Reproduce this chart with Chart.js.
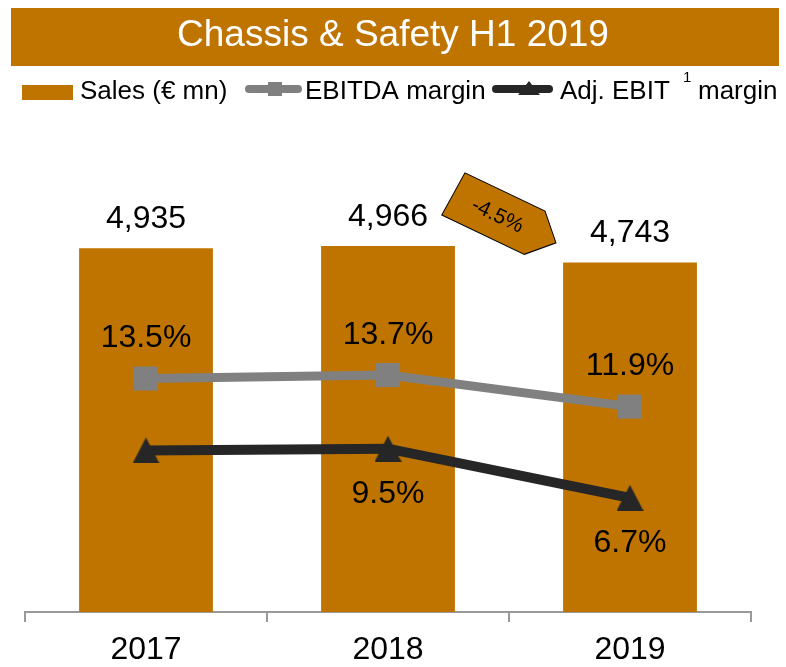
<!DOCTYPE html>
<html>
<head>
<meta charset="utf-8">
<script src="https://cdn.jsdelivr.net/npm/chart.js@4.4.1/dist/chart.umd.min.js"></script>
<style>
html,body{margin:0;padding:0;background:#fff;}
#wrap{width:786px;height:667px;position:relative;}
</style>
</head>
<body>
<div id="wrap"><canvas id="c"></canvas></div>
<script>
// ---- data ----
const chartTitle = 'Chassis & Safety H1 2019';
const years = ['2017', '2018', '2019'];
const sales = [4935, 4966, 4743];
const ebitdaMargin = [13.5, 13.7, 11.9];
const adjEbitMargin = [9.4, 9.5, 6.7];
const adjEbitLabelShown = [false, true, true];
const seriesNames = ['Sales (€ mn)', 'EBITDA margin', 'Adj. EBIT¹ margin'];
const legendEbitParts = ['Adj. EBIT', '1', 'margin'];
const salesChangeLabel = '-4.5%';

// ---- styles ----
const ORANGE = '#C07400';
const GRAY = '#808080';
const DARK = '#262626';
const FONT = "'Liberation Sans', Arial, Helvetica, sans-serif";

function triangleImage(w, h, color) {
  const c = document.createElement('canvas');
  c.width = w; c.height = h;
  const g = c.getContext('2d');
  g.fillStyle = color;
  g.beginPath();
  g.moveTo(w / 2, 0);
  g.lineTo(w, h);
  g.lineTo(0, h);
  g.closePath();
  g.fill();
  return c;
}
const triMarker = triangleImage(27, 26, DARK);

const bannerPlugin = {
  id: 'banner',
  beforeDraw(chart) {
    const ctx = chart.ctx;
    ctx.save();
    ctx.fillStyle = '#fff';
    ctx.fillRect(0, 0, chart.width, chart.height);
    ctx.fillStyle = ORANGE;
    ctx.fillRect(11, 8, 768, 58);
    ctx.restore();
  }
};

const legendPlugin = {
  id: 'customLegend',
  afterDraw(chart) {
    const ctx = chart.ctx;
    ctx.save();
    const cy = 92;
    // Sales box
    ctx.fillStyle = ORANGE;
    ctx.fillRect(22, 85, 51, 15);
    ctx.fillStyle = '#000';
    ctx.font = '26px ' + FONT;
    ctx.textBaseline = 'middle';
    ctx.textAlign = 'left';
    ctx.fillText(seriesNames[0], 80, cy);
    // EBITDA marker
    ctx.strokeStyle = GRAY;
    ctx.lineWidth = 8;
    ctx.lineCap = 'round';
    ctx.beginPath(); ctx.moveTo(249, 89); ctx.lineTo(298, 89); ctx.stroke();
    ctx.fillStyle = GRAY;
    ctx.fillRect(268, 82, 14, 14);
    ctx.fillStyle = '#000';
    ctx.fillText(seriesNames[1], 305, cy);
    // Adj EBIT marker
    ctx.strokeStyle = DARK;
    ctx.beginPath(); ctx.moveTo(496, 89); ctx.lineTo(549, 89); ctx.stroke();
    ctx.fillStyle = DARK;
    ctx.beginPath(); ctx.moveTo(529, 81); ctx.lineTo(540, 95); ctx.lineTo(518, 95); ctx.closePath(); ctx.fill();
    ctx.fillStyle = '#000';
    ctx.fillText(legendEbitParts[0], 560, cy);
    ctx.font = '15px ' + FONT;
    ctx.fillText(legendEbitParts[1], 683, 78);
    ctx.font = '26px ' + FONT;
    ctx.fillText(legendEbitParts[2], 698, cy);
    ctx.restore();
  }
};

const labelPlugin = {
  id: 'valueLabels',
  afterDatasetsDraw(chart) {
    const ctx = chart.ctx;
    ctx.save();
    ctx.fillStyle = '#000';
    ctx.font = '32px ' + FONT;
    ctx.textAlign = 'center';
    ctx.textBaseline = 'middle';
    const m0 = chart.getDatasetMeta(0);
    m0.data.forEach((el, i) => {
      ctx.fillText(sales[i].toLocaleString('en-US'), el.x, el.y - 29);
    });
    const m1 = chart.getDatasetMeta(1);
    m1.data.forEach((el, i) => {
      ctx.fillText(ebitdaMargin[i].toFixed(1) + '%', el.x, el.y - 40);
    });
    const m2 = chart.getDatasetMeta(2);
    m2.data.forEach((el, i) => {
      if (adjEbitLabelShown[i]) ctx.fillText(adjEbitMargin[i].toFixed(1) + '%', el.x, el.y + 45);
    });
    ctx.restore();
  }
};

const arrowPlugin = {
  id: 'changeArrow',
  afterDatasetsDraw(chart) {
    const ctx = chart.ctx;
    const xs = chart.scales.x, ys = chart.scales.y;
    const cx = (xs.getPixelForValue(1) + xs.getPixelForValue(2)) / 2 - 5;
    const cy = ys.getPixelForValue(Math.max(...sales)) - 28;
    ctx.save();
    ctx.translate(cx, cy);
    ctx.rotate(25.5 * Math.PI / 180);
    ctx.beginPath();
    ctx.moveTo(-57.5, 24);
    ctx.lineTo(-54.7, -24);
    ctx.lineTo(34, -24);
    ctx.lineTo(57.6, 0);
    ctx.lineTo(34, 24);
    ctx.closePath();
    ctx.fillStyle = ORANGE;
    ctx.fill();
    ctx.lineWidth = 1;
    ctx.strokeStyle = '#000';
    ctx.stroke();
    ctx.fillStyle = '#000';
    ctx.font = '21px ' + FONT;
    ctx.textAlign = 'center';
    ctx.textBaseline = 'middle';
    ctx.fillText(salesChangeLabel, -7, 1);
    ctx.restore();
  }
};

new Chart(document.getElementById('c'), {
  data: {
    labels: years,
    datasets: [
      {
        type: 'bar',
        label: seriesNames[0],
        data: sales,
        yAxisID: 'y',
        backgroundColor: ORANGE,
        borderWidth: 0,
        barPercentage: 0.553,
        categoryPercentage: 1.0,
        order: 3
      },
      {
        type: 'line',
        label: seriesNames[1],
        data: ebitdaMargin,
        yAxisID: 'y2',
        borderColor: GRAY,
        borderWidth: 9,
        tension: 0,
        pointStyle: 'rect',
        pointRadius: 17,
        pointHoverRadius: 17,
        pointBackgroundColor: GRAY,
        pointBorderWidth: 0,
        order: 1
      },
      {
        type: 'line',
        label: seriesNames[2],
        data: adjEbitMargin,
        yAxisID: 'y2',
        borderColor: DARK,
        borderWidth: 10,
        tension: 0,
        pointStyle: triMarker,
        pointRadius: 14,
        pointBackgroundColor: DARK,
        pointBorderWidth: 0,
        order: 2
      }
    ]
  },
  options: {
    responsive: true,
    maintainAspectRatio: false,
    animation: false,
    events: [],
    layout: { padding: 0 },
    plugins: {
      legend: { display: false },
      tooltip: { enabled: false },
      title: {
        display: true,
        text: chartTitle,
        color: '#fff',
        font: { family: FONT, size: 37, weight: 'normal' },
        padding: { top: 13.3, bottom: 75.3 }
      }
    },
    scales: {
      x: {
        offset: true,
        grid: {
          offset: true,
          display: true,
          drawOnChartArea: false,
          drawTicks: true,
          tickLength: 10,
          color: '#999',
          lineWidth: 2
        },
        border: { display: true, color: '#999', width: 2 },
        ticks: { color: '#000', font: { family: FONT, size: 32 }, padding: 9 },
        afterFit(s) { s.height = 55; }
      },
      y: {
        position: 'left',
        min: 0,
        max: 6500,
        grid: { display: false },
        border: { display: false },
        ticks: { display: false },
        afterFit(s) { s.width = 25; }
      },
      y2: {
        position: 'right',
        min: 0.19,
        max: 27.5,
        grid: { display: false },
        border: { display: false },
        ticks: { display: false },
        afterFit(s) { s.width = 35; }
      }
    }
  },
  plugins: [bannerPlugin, legendPlugin, labelPlugin, arrowPlugin]
});
</script>
</body>
</html>
